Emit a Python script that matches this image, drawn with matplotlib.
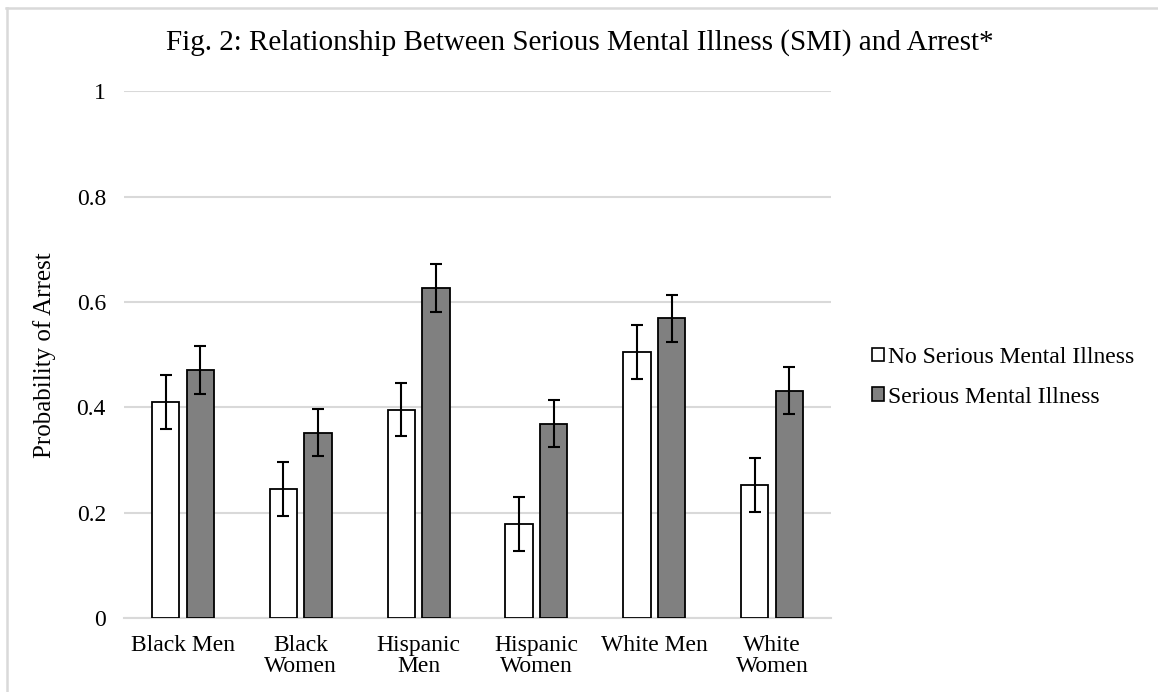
import matplotlib
matplotlib.use("Agg")
import matplotlib.pyplot as plt
import numpy as np
from matplotlib.lines import Line2D
from matplotlib.patches import Patch

plt.rcParams['font.family'] = ['Liberation Serif', 'DejaVu Serif']

categories = ["Black Men", "Black\nWomen", "Hispanic\nMen", "Hispanic\nWomen", "White Men", "White\nWomen"]
no_smi = [0.41, 0.245, 0.396, 0.179, 0.505, 0.253]
no_smi_err = [0.051, 0.051, 0.051, 0.051, 0.051, 0.051]
smi = [0.471, 0.352, 0.627, 0.369, 0.569, 0.432]
smi_err = [0.045, 0.045, 0.045, 0.045, 0.045, 0.045]
series_names = ["No Serious Mental Illness", "Serious Mental Illness"]
yticks = [0, 0.2, 0.4, 0.6, 0.8, 1]
ytick_labels = ["0", "0.2", "0.4", "0.6", "0.8", "1"]

fig = plt.figure(figsize=(11.58, 6.92), dpi=100)
ax = fig.add_axes([0.1071, 0.1069, 0.6105, 0.7609])

x = np.arange(len(categories))
bw = 0.233
off = 0.147
err_kw = dict(ecolor="black", elinewidth=1.5, capsize=4, capthick=1.5)
ax.bar(x - off, no_smi, bw, color="white", edgecolor="black", linewidth=1.3,
       yerr=no_smi_err, error_kw=err_kw, zorder=3)
ax.bar(x + off, smi, bw, color="#808080", edgecolor="black", linewidth=1.3,
       yerr=smi_err, error_kw=err_kw, zorder=3)

ax.set_xlim(-0.5, len(categories) - 0.5)
ax.set_ylim(0, 1)
ax.set_yticks(yticks)
ax.set_yticklabels(ytick_labels)
ax.set_xticks(x)
ax.set_xticklabels(categories, linespacing=1.0)
ax.tick_params(axis="both", length=0, labelsize=17)
ax.tick_params(axis="x", pad=12)
ax.tick_params(axis="y", pad=13)
ax.yaxis.grid(True, color="#d9d9d9", linewidth=1.5, zorder=0)
ax.set_axisbelow(True)
for s in ["top", "right", "left"]:
    ax.spines[s].set_visible(False)
ax.spines["bottom"].set_color("#d9d9d9")
ax.spines["bottom"].set_linewidth(1.5)
ax.set_ylabel("Probability of Arrest", fontsize=18, labelpad=15)

fig.text(0.501, 0.938, "Fig. 2: Relationship Between Serious Mental Illness (SMI) and Arrest*",
         ha="center", va="center", fontsize=21)

handles = [Patch(facecolor="white", edgecolor="black", linewidth=1.2),
           Patch(facecolor="#808080", edgecolor="black", linewidth=1.2)]
fig.legend(handles, series_names, loc="center left", bbox_to_anchor=(0.745, 0.455),
           frameon=False, fontsize=17, handlelength=0.5, handleheight=0.5,
           handletextpad=0.15, labelspacing=0.8, borderaxespad=0)

# light frame along the top and left edges
fig.add_artist(Line2D([6 / 1158, 1], [1 - 8 / 692, 1 - 8 / 692], transform=fig.transFigure,
                      color="#d9d9d9", linewidth=1.8))
fig.add_artist(Line2D([7 / 1158, 7 / 1158], [0, 1 - 8 / 692], transform=fig.transFigure,
                      color="#d9d9d9", linewidth=1.8))

fig.savefig("out.png", dpi=100)
